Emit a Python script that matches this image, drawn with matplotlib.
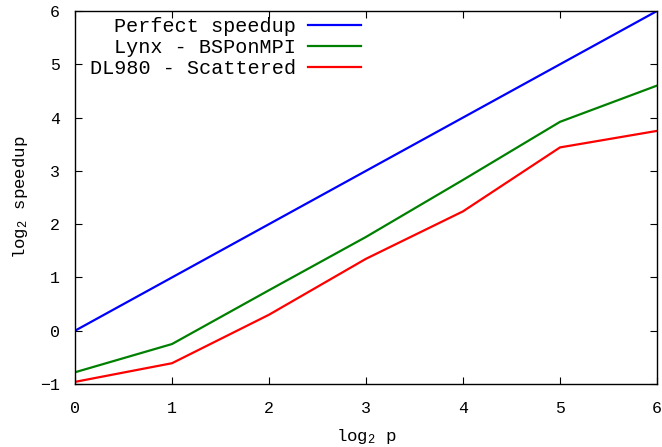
import matplotlib
matplotlib.use("Agg")
import matplotlib.pyplot as plt

plt.rcParams['font.family'] = ['Liberation Mono', 'DejaVu Sans Mono']
plt.rcParams['mathtext.fontset'] = 'custom'
plt.rcParams['mathtext.rm'] = 'Liberation Mono'
plt.rcParams['mathtext.default'] = 'regular'

p = [0, 1, 2, 3, 4, 5, 6]
perfect = [0, 1, 2, 3, 4, 5, 6]
lynx = [-0.78, -0.25, 0.76, 1.76, 2.83, 3.92, 4.60]
dl980 = [-0.96, -0.61, 0.30, 1.35, 2.24, 3.44, 3.75]

fig = plt.figure(figsize=(6.62, 4.47), dpi=100)
ax = fig.add_axes([75 / 662, 63 / 447, 582 / 662, 373 / 447])

ax.plot(p, perfect, color='#0000ff', lw=1.6, label='Perfect speedup')
ax.plot(p, lynx, color='#008000', lw=1.6, label='Lynx - BSPonMPI')
ax.plot(p, dl980, color='#ff0000', lw=1.6, label='DL980 - Scattered')

ax.set_xlim(0, 6)
ax.set_ylim(-1, 6)
ax.set_xticks(range(0, 7))
ax.set_yticks(range(-1, 7))
ax.tick_params(direction='in', top=True, right=True, length=5, labelsize=12)
ax.tick_params(axis='x', pad=12)
ax.tick_params(axis='y', pad=11)
for s in ax.spines.values():
    s.set_linewidth(1.0)

ax.set_xlabel('log$_2$ p', fontsize=12.5, labelpad=8)
ax.set_ylabel('log$_2$ speedup', fontsize=12.5, labelpad=7)

ax.legend(loc='upper left', bbox_to_anchor=(0.0, 1.025), frameon=False,
          markerfirst=False, fontsize=14.5, handlelength=2.6, handletextpad=0.6,
          labelspacing=0.1, borderaxespad=0.35)

fig.savefig('out.png', dpi=100)
